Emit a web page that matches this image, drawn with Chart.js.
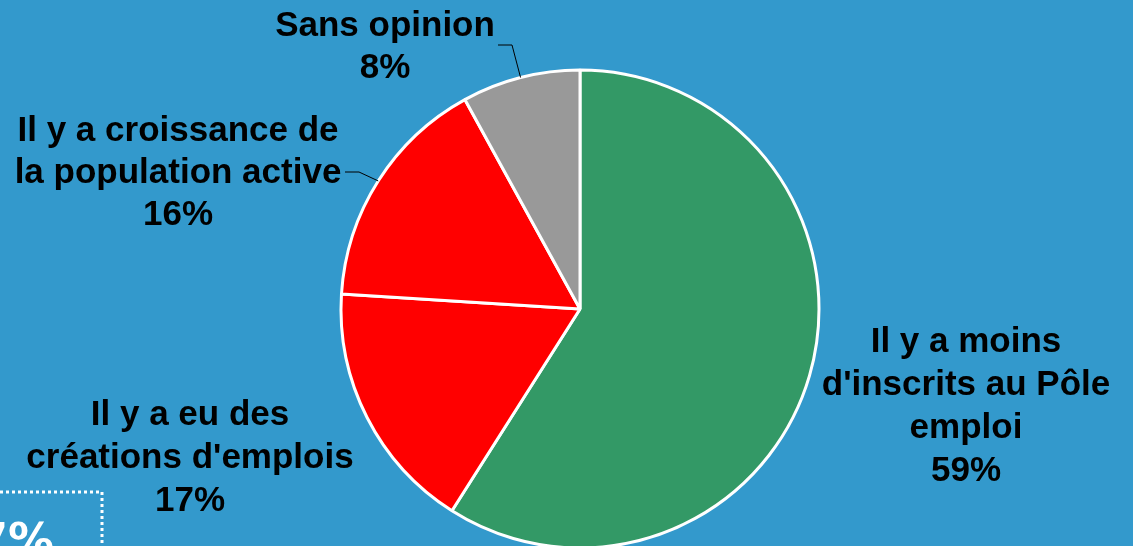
<!DOCTYPE html>
<html>
<head>
<meta charset="utf-8">
<script src="https://cdn.jsdelivr.net/npm/chart.js@4.4.1/dist/chart.umd.min.js"></script>
<style>
  html, body { margin: 0; padding: 0; background: #3399CC; overflow: hidden; }
  #wrap { width: 1133px; height: 546px; position: relative; }
</style>
</head>
<body>
<div id="wrap"><canvas id="c" width="1133" height="546"></canvas></div>
<script>
// ---- data ----
const categories = [
  "Il y a moins d'inscrits au Pôle emploi",
  "Il y a eu des créations d'emplois",
  "Il y a croissance de la population active",
  "Sans opinion"
];
const values = [59, 17, 16, 8];
const labelLines = [
  ["Il y a moins", "d'inscrits au Pôle", "emploi"],
  ["Il y a eu des", "créations d'emplois"],
  ["Il y a croissance de", "la population active"],
  ["Sans opinion"]
];
const sideNote = "7%";

// ---- styles / layout ----
const sliceColors = ["#339966", "#FF0000", "#FF0000", "#999999"];
const labelLayout = [
  { x: 966, y: 352, lh: 43, leader: null },
  { x: 190, y: 425, lh: 43, leader: null },
  { x: 178, y: 141, lh: 42, leader: { x0: 345, y0: 172, x1: 359, y1: 172 } },
  { x: 385, y: 36, lh: 42, leader: { x0: 498, y0: 45, x1: 512, y1: 45 } }
];

const labelPlugin = {
  id: 'labels',
  afterDatasetsDraw(chart) {
    const ctx = chart.ctx;
    const meta = chart.getDatasetMeta(0);
    ctx.save();
    meta.data.forEach((arc, i) => {
      const L = labelLayout[i];
      const lines = labelLines[i].concat([values[i] + '%']);
      if (L.leader) {
        const p = arc.getProps(['x', 'y', 'startAngle', 'endAngle', 'outerRadius'], true);
        const mid = (p.startAngle + p.endAngle) / 2;
        const ex = p.x + Math.cos(mid) * p.outerRadius;
        const ey = p.y + Math.sin(mid) * p.outerRadius;
        ctx.strokeStyle = '#000000';
        ctx.lineWidth = 1;
        ctx.beginPath();
        ctx.moveTo(L.leader.x0, L.leader.y0);
        ctx.lineTo(L.leader.x1, L.leader.y1);
        ctx.lineTo(ex, ey);
        ctx.stroke();
      }
      ctx.fillStyle = '#000000';
      ctx.font = 'bold 35px "Liberation Sans", Arial, sans-serif';
      ctx.textAlign = 'center';
      ctx.textBaseline = 'alphabetic';
      lines.forEach((t, k) => ctx.fillText(t, L.x, L.y + k * L.lh));
    });

    // partial neighbouring box at bottom-left
    ctx.strokeStyle = '#FFFFFF';
    ctx.lineWidth = 3;
    ctx.setLineDash([3, 3]);
    ctx.beginPath();
    ctx.moveTo(0, 492);
    ctx.lineTo(102, 492);
    ctx.lineTo(102, 546);
    ctx.stroke();
    ctx.setLineDash([]);
    ctx.fillStyle = '#FFFFFF';
    ctx.font = 'bold 46px "DejaVu Sans", sans-serif';
    ctx.textAlign = 'right';
    ctx.fillText(sideNote, 54, 556);
    ctx.restore();
  }
};

new Chart(document.getElementById('c'), {
  type: 'pie',
  data: {
    labels: categories,
    datasets: [{
      data: values,
      backgroundColor: sliceColors,
      borderColor: '#FFFFFF',
      borderWidth: 3,
      clip: false
    }]
  },
  options: {
    responsive: false,
    devicePixelRatio: 1,
    animation: false,
    radius: 239,
    layout: { padding: { left: 27, right: 0, top: 72, bottom: 0 } },
    plugins: {
      legend: { display: false },
      tooltip: { enabled: false }
    }
  },
  plugins: [labelPlugin]
});
</script>
</body>
</html>
